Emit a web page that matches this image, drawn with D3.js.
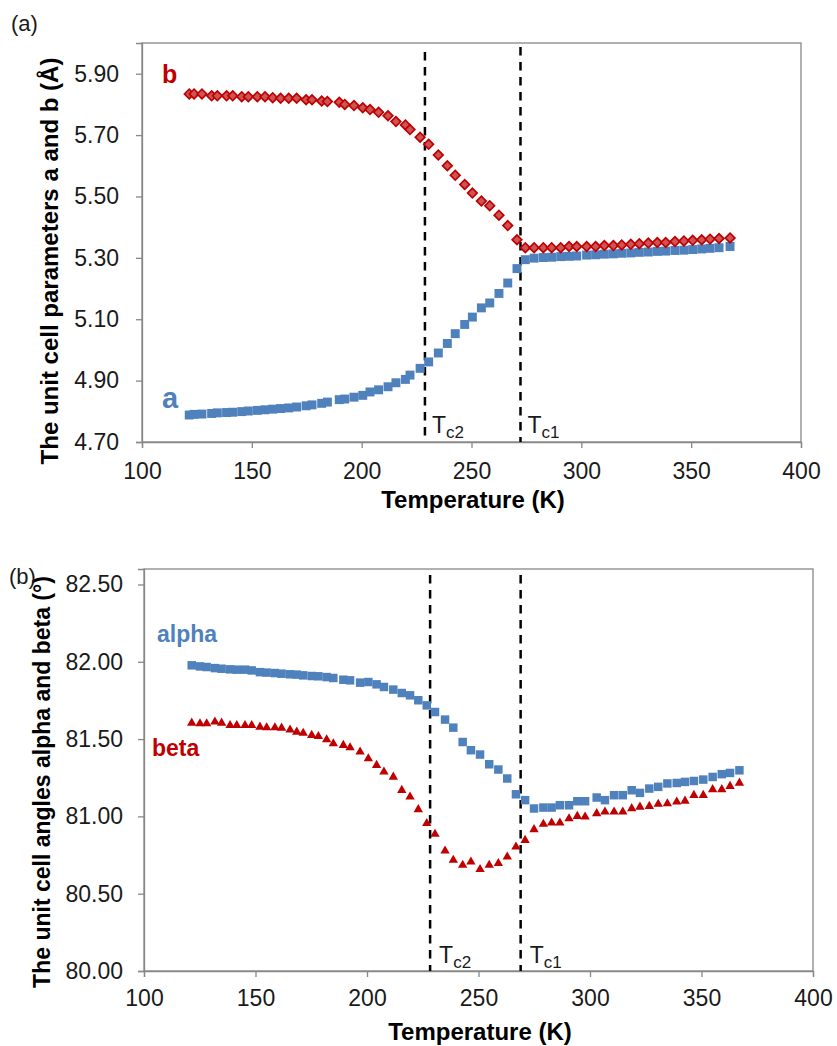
<!DOCTYPE html>
<html>
<head>
<meta charset="utf-8">
<script src="https://cdn.jsdelivr.net/npm/d3@7"></script>
<style>
  html, body { margin: 0; padding: 0; background: #fff; }
  svg { display: block; font-family: "Liberation Sans", Arial, sans-serif; }
</style>
</head>
<body>
<svg id="chart" width="837" height="1046"></svg>
<script>
// ---------- Panel (a): unit cell parameters a and b ----------
const tempA = [121.5,123.7,127.3,131.7,134.3,138.5,141.3,145.4,148.4,152.5,
  156.0,159.5,163.1,166.8,170.4,174.7,177.4,181.8,184.4,189.8,
  192.3,196.5,200.5,203.8,207.7,212.0,215.6,219.9,222.0,226.6,
  230.5,234.9,239.0,242.6,246.9,250.4,254.5,258.3,262.5,266.5,
  270.7,274.5,278.5,282.7,286.5,290.6,294.4,297.9,302.4,306.5,
  310.5,314.6,318.4,322.5,326.4,330.5,334.6,338.4,342.6,346.7,
  350.7,354.8,358.6,362.7,367.7];
const cellA = [4.788,4.790,4.791,4.793,4.795,4.796,4.797,4.799,4.801,4.803,
  4.805,4.807,4.809,4.811,4.814,4.818,4.821,4.826,4.830,4.838,
  4.840,4.846,4.852,4.863,4.870,4.880,4.893,4.904,4.918,4.940,
  4.961,4.990,5.021,5.053,5.083,5.107,5.137,5.153,5.184,5.218,
  5.265,5.294,5.299,5.301,5.302,5.304,5.305,5.306,5.309,5.310,
  5.312,5.313,5.315,5.316,5.318,5.319,5.321,5.322,5.324,5.325,
  5.327,5.329,5.331,5.333,5.337];
const cellB = [5.834,5.834,5.834,5.828,5.828,5.828,5.828,5.825,5.825,5.825,
  5.825,5.822,5.820,5.820,5.820,5.815,5.815,5.811,5.809,5.807,
  5.800,5.796,5.789,5.783,5.774,5.763,5.744,5.733,5.718,5.693,
  5.670,5.635,5.600,5.569,5.539,5.511,5.485,5.470,5.439,5.405,
  5.359,5.333,5.333,5.333,5.333,5.333,5.337,5.337,5.337,5.337,
  5.340,5.340,5.342,5.344,5.346,5.348,5.350,5.350,5.353,5.355,
  5.357,5.359,5.361,5.363,5.365];

// ---------- Panel (b): unit cell angles alpha and beta ----------
const tempAng = [121.4,125.1,128.1,131.8,134.8,138.6,141.6,145.3,148.3,152.0,
  155.0,158.7,161.7,165.5,168.5,171.4,175.2,178.2,181.9,184.9,
  189.4,192.4,196.9,200.6,204.3,207.6,211.8,215.6,219.3,223.0,
  226.8,230.5,235.0,238.7,242.9,246.6,250.7,254.8,258.9,262.9,
  266.8,270.9,274.9,279.1,282.8,286.5,290.6,294.3,297.8,303.0,
  306.7,310.8,314.7,318.7,322.4,326.6,330.6,334.7,338.9,342.6,
  346.6,350.8,355.0,359.1,362.8,367.0];
const alphaVals = [81.977,81.970,81.966,81.959,81.955,81.951,81.949,81.949,81.944,81.933,
  81.930,81.927,81.923,81.919,81.917,81.912,81.908,81.906,81.901,81.895,
  81.884,81.880,81.865,81.869,81.854,81.837,81.820,81.798,81.783,81.751,
  81.718,81.675,81.626,81.574,81.481,81.428,81.400,81.337,81.303,81.245,
  81.143,81.105,81.051,81.057,81.057,81.072,81.072,81.098,81.098,81.122,
  81.105,81.137,81.137,81.169,81.152,81.180,81.191,81.213,81.216,81.223,
  81.229,81.238,81.255,81.273,81.281,81.298];
const betaVals = [81.604,81.600,81.600,81.611,81.604,81.589,81.589,81.589,81.589,81.578,
  81.574,81.574,81.572,81.560,81.546,81.539,81.525,81.518,81.497,81.471,
  81.460,81.445,81.417,81.374,81.331,81.288,81.255,81.169,81.126,81.045,
  80.955,80.885,80.777,80.717,80.685,80.706,80.657,80.685,80.696,80.738,
  80.803,80.846,80.915,80.950,80.958,80.958,80.986,81.001,80.997,81.019,
  81.029,81.029,81.029,81.051,81.061,81.066,81.079,81.083,81.094,81.100,
  81.137,81.137,81.174,81.174,81.195,81.216];

// ---------- Axes / annotations ----------
const xTicks = [100,150,200,250,300,350,400];
const yTicksA = [4.70,4.90,5.10,5.30,5.50,5.70,5.90];
const yTicksB = [80.00,80.50,81.00,81.50,82.00,82.50];
const tcA = [228.8, 272.3];
const tcB = [228.3, 268.9];
const tcSubs = ["c2","c1"];

const BLUE = "#4F81BD", RED = "#C00000", AXIS = "#888888", TXT = "#1a1a1a";
const svg = d3.select("#chart");

function drawPanel(o) {
  const x = d3.scaleLinear().domain([100,400]).range([o.left, o.right]);
  const y = d3.scaleLinear().domain(o.yDomain).range([o.bottom, o.top]);
  const g = svg.append("g");

  // plot frame
  g.append("rect").attr("x", o.left).attr("y", o.top)
    .attr("width", o.right - o.left).attr("height", o.bottom - o.top)
    .attr("fill", "none").attr("stroke", AXIS).attr("stroke-width", 1.3);

  const ax = g.append("g").attr("transform", `translate(0,${o.bottom})`)
    .call(d3.axisBottom(x).tickValues(xTicks).tickSize(6).tickPadding(o.xPad).tickFormat(d3.format("d")));
  const ay = g.append("g").attr("transform", `translate(${o.left},0)`)
    .call(d3.axisLeft(y).tickValues(o.yTicks).tickSize(6).tickPadding(o.yPad).tickFormat(d3.format(".2f")));
  [ax, ay].forEach(a => {
    a.select(".domain").attr("stroke", AXIS).attr("stroke-width", 1.3);
    a.selectAll(".tick line").attr("stroke", AXIS).attr("stroke-width", 1.3);
    a.selectAll("text").attr("font-size", 23).attr("fill", TXT)
      .attr("font-family", "Liberation Sans, Arial, sans-serif");
  });

  // dashed transition lines
  o.tc.forEach((t, i) => {
    g.append("line").attr("x1", x(t)).attr("x2", x(t))
      .attr("y1", o.dashTop[i]).attr("y2", o.bottom)
      .attr("stroke", "#000").attr("stroke-width", 2.5).attr("stroke-dasharray", "8.5,6.5");
    const tx = g.append("text").attr("x", x(t) + o.tcDx).attr("y", o.tcY)
      .attr("font-size", 23).attr("fill", TXT).text("T");
    tx.append("tspan").attr("font-size", 17).attr("dy", 5).text(tcSubs[i]);
  });

  // series
  o.series.forEach(s => {
    g.append("g").selectAll("path").data(o.temps)
      .join("path")
      .attr("transform", (d, i) => `translate(${x(d)},${y(s.values[i])})${s.rotate ? " rotate(45)" : ""}`)
      .attr("d", d3.symbol().type(s.type).size(s.size)())
      .attr("fill", s.fill).attr("stroke", s.stroke || "none").attr("stroke-width", s.sw || 0);
  });

  // axis titles
  g.append("text").attr("x", o.xTitleX).attr("y", o.xTitleY).attr("text-anchor", "middle")
    .attr("font-size", 24).attr("font-weight", "bold").attr("fill", "#000").text("Temperature (K)");
  g.append("text").attr("transform", `translate(${o.yTitleX},${o.yTitleY}) rotate(-90)`)
    .attr("text-anchor", "middle").attr("font-size", o.yTitleSize).attr("font-weight", "bold")
    .attr("fill", "#000").text(o.yTitle);

  // panel label
  svg.append("text").attr("x", o.panelX).attr("y", o.panelY).attr("font-size", 22)
    .attr("fill", TXT).text(o.panel);

  // series labels
  o.labels.forEach(l => {
    g.append("text").attr("x", l.x).attr("y", l.y).attr("font-size", l.size)
      .attr("font-weight", l.weight).attr("fill", l.color).text(l.text);
  });
}

drawPanel({
  left: 142, right: 801, top: 43, bottom: 442,
  yDomain: [4.7, 6.0], yTicks: yTicksA, xPad: 15, yPad: 17,
  tc: tcA, dashTop: [52, 47], tcDx: 7, tcY: 433,
  temps: tempA,
  series: [
    { values: cellA, type: d3.symbolSquare, size: 80, fill: BLUE },
    { values: cellB, type: d3.symbolSquare, size: 46, fill: "#CD5454", stroke: RED, sw: 1.7, rotate: true }
  ],
  xTitleX: 473, xTitleY: 508,
  yTitleX: 58, yTitleY: 261, yTitleSize: 24,
  yTitle: "The unit cell parameters a and b (Å)",
  panel: "(a)", panelX: 11, panelY: 31,
  labels: [
    { text: "b", x: 162, y: 83, size: 25, weight: "bold", color: RED },
    { text: "a", x: 162, y: 408, size: 29, weight: "bold", color: BLUE }
  ]
});

drawPanel({
  left: 144, right: 813, top: 569, bottom: 971,
  yDomain: [80, 82.6], yTicks: yTicksB, xPad: 13, yPad: 15,
  tc: tcB, dashTop: [575, 575], tcDx: 9, tcY: 963,
  temps: tempAng,
  series: [
    { values: alphaVals, type: d3.symbolSquare, size: 72, fill: BLUE },
    { values: betaVals, type: d3.symbolTriangle, size: 38, fill: RED }
  ],
  xTitleX: 480, xTitleY: 1040,
  yTitleX: 50, yTitleY: 782, yTitleSize: 23,
  yTitle: "The unit cell angles alpha and beta (°)",
  panel: "(b)", panelX: 9, panelY: 584,
  labels: [
    { text: "alpha", x: 157, y: 642, size: 23, weight: "bold", color: BLUE },
    { text: "beta", x: 152, y: 756, size: 23, weight: "bold", color: RED }
  ]
});
</script>
</body>
</html>
